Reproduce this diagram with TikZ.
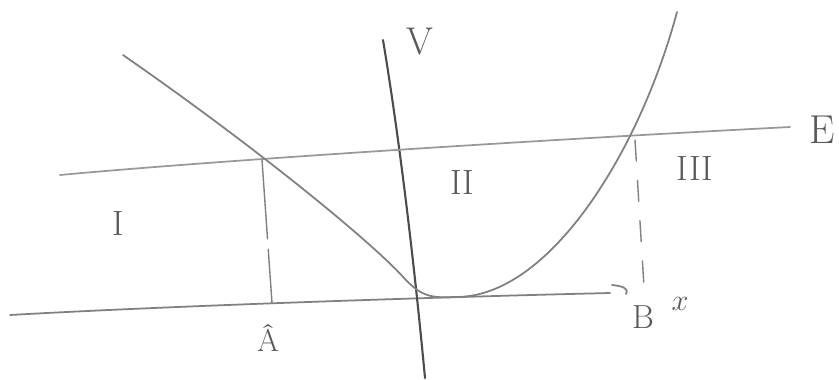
\documentclass[tikz,border=0pt]{standalone}
\usepackage{tikz}

\begin{document}
\begin{tikzpicture}[x=0.02cm, y=-0.02cm,
	pencil/.style={draw=black!50, line width=1pt, line cap=round},
	dashline/.style={pencil, line width=0.8pt, dash pattern=on 45pt off 6pt},
	lbl/.style={text=black!65, inner sep=0pt, font=\fontsize{20}{22}\selectfont}]
	\useasboundingbox (0, 0) rectangle (839, 379);
	% Axes and energy level:
	\draw[pencil] (10, 315) .. controls (150, 307) and (400, 298) .. (610, 293);
	\draw[pencil] (612, 285) .. controls (622, 286) and (629, 288) .. (626, 294);
	\draw[pencil, draw=black!70, line width=1.2pt] (383, 40) .. controls (398, 130) and (413, 250) .. (425, 378);
	\draw[pencil, draw=black!40] (60, 175) .. controls (200, 162) and (500, 142) .. (790, 127);
	% Potential:
	\draw[pencil] (123, 55) .. controls (260, 150) and (375, 245) .. (405, 279)
		.. controls (422, 297) and (432, 298) .. (455, 297)
		.. controls (550, 298) and (640, 150) .. (677, 12);
	% Turning points:
	\draw[dashline] (262, 160) -- (272, 303);
	\draw[pencil, line width=0.8pt, dash pattern=on 12pt off 11pt] (635, 140) -- (644, 287);
	% Labels:
	\node[lbl, font=\fontsize{22}{24}\selectfont] (V) at (420, 42){V};
	\node[lbl, font=\fontsize{23}{25}\selectfont] (E) at (822, 130){E};
	\node[lbl] (I) at (118, 223){I};
	\node[lbl] (II) at (462, 182){II};
	\node[lbl] (III) at (695, 168){III};
	\node[lbl, font=\fontsize{18}{20}\selectfont] (A) at (268, 338){\^{A}};
	\node[lbl, font=\fontsize{19}{21}\selectfont] (B) at (643, 317){B};
	\node[lbl, font=\fontsize{19}{21}\selectfont] (x) at (680, 304){$x$};
\end{tikzpicture}
\end{document}
